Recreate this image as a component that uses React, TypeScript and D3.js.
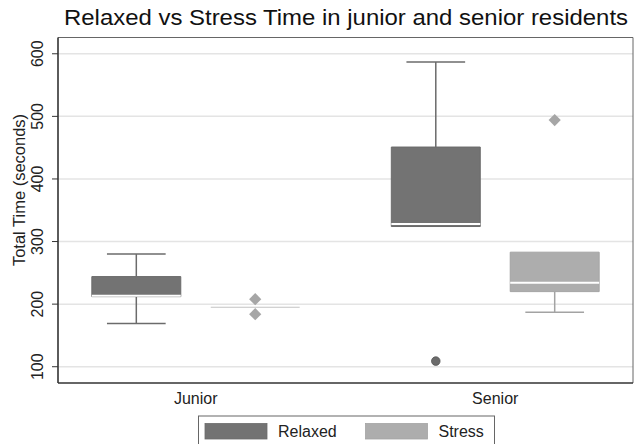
import React from 'react';
import * as d3 from 'd3';

// one entry per box
const groups = ['Junior', 'Senior'];
const seriesNames = ['Relaxed', 'Stress'];
const boxGroup = ['Junior', 'Junior', 'Senior', 'Senior'];
const boxSeries = ['Relaxed', 'Stress', 'Relaxed', 'Stress'];
const lowerWhisker = [169, 195, 324, 187];
const q1 = [212, 195, 324, 220];
const median = [213.5, 195, 328, 234];
const q3 = [244, 195, 451, 283];
const upperWhisker = [280, 195, 587, 283];

const outlierGroup = ['Junior', 'Junior', 'Senior', 'Senior'];
const outlierSeries = ['Stress', 'Stress', 'Relaxed', 'Stress'];
const outlierValue = [208, 184, 109, 494];

const yTicks = [100, 200, 300, 400, 500, 600];

const colors: Record<string, string> = { Relaxed: '#737373', Stress: '#adadad' };
const lineColors: Record<string, string> = { Relaxed: '#6b6b6b', Stress: '#a3a3a3' };

const W = 638, H = 444;
const left = 58, right = 633, top = 37.5, bottom = 383;
const font = 'Liberation Sans, Arial, Helvetica, sans-serif';

export default function App() {
  const x = d3.scalePoint<string>().domain(groups).range([left, right]).padding(0.46);
  const step = x.step();
  const sub = d3.scaleBand<string>().domain(seriesNames)
    .range([-step * 0.347, step * 0.347]).paddingInner(0.252);
  const bw = sub.bandwidth();
  const y = d3.scaleLinear().domain([74, 626]).range([bottom, top]);

  const cx = (g: string, s: string) => (x(g) as number) + (sub(s) as number) + bw / 2;

  const diamond = d3.symbol().type(d3.symbolDiamond2).size(95)();

  return (
    <svg width={W} height={H} style={{ position: 'absolute', left: 0, top: 0, background: '#fff' }}>
      <text x={346} y={25} textAnchor="middle" fontFamily={font} fontSize={22.5} fill="#111"
        textLength={564} lengthAdjust="spacingAndGlyphs">
        Relaxed vs Stress Time in junior and senior residents
      </text>

      {/* grid */}
      {yTicks.map(t => (
        <line key={'g' + t} x1={left} x2={right} y1={y(t)} y2={y(t)} stroke="#e4e4e4" strokeWidth={1.5} />
      ))}

      {/* boxes */}
      {boxGroup.map((g, i) => {
        const s = boxSeries[i];
        const c = cx(g, s);
        const x0 = c - bw / 2, x1 = c + bw / 2;
        const capW = bw * 0.33;
        const collapsed = q1[i] === q3[i];
        return (
          <g key={'b' + i}>
            {upperWhisker[i] > q3[i] && (
              <>
                <line x1={c} x2={c} y1={y(q3[i])} y2={y(upperWhisker[i])} stroke={lineColors[s]} strokeWidth={1.5} />
                <line x1={c - capW} x2={c + capW} y1={y(upperWhisker[i])} y2={y(upperWhisker[i])} stroke={lineColors[s]} strokeWidth={1.5} />
              </>
            )}
            {lowerWhisker[i] < q1[i] && (
              <>
                <line x1={c} x2={c} y1={y(q1[i])} y2={y(lowerWhisker[i])} stroke={lineColors[s]} strokeWidth={1.5} />
                <line x1={c - capW} x2={c + capW} y1={y(lowerWhisker[i])} y2={y(lowerWhisker[i])} stroke={lineColors[s]} strokeWidth={1.5} />
              </>
            )}
            <path
              d={`M${x0},${y(q3[i])}H${x1}V${y(q1[i])}H${x0}Z`}
              fill={colors[s]}
              stroke={collapsed ? '#c4c4c4' : lineColors[s]}
              strokeWidth={collapsed ? 1.2 : 1}
            />
            {!collapsed && (
              <line x1={x0} x2={x1} y1={y(median[i])} y2={y(median[i])} stroke="#fff" strokeWidth={2} />
            )}
          </g>
        );
      })}

      {/* outliers */}
      {outlierValue.map((v, i) => {
        const s = outlierSeries[i];
        const c = cx(outlierGroup[i], s);
        return s === 'Stress'
          ? <path key={'o' + i} d={diamond as string} transform={`translate(${c},${y(v)})`} fill="#a6a6a6" />
          : <circle key={'o' + i} cx={c} cy={y(v)} r={4.3} fill="#6b6b6b" stroke="#555" strokeWidth={0.8} />;
      })}

      {/* frame */}
      <line x1={left} x2={right} y1={top} y2={top} stroke="#666" strokeWidth={1} />
      <line x1={right} x2={right} y1={top} y2={bottom} stroke="#666" strokeWidth={1} />
      <line x1={left} x2={left} y1={top} y2={bottom} stroke="#333" strokeWidth={1.6} />
      <line x1={left} x2={right} y1={bottom} y2={bottom} stroke="#333" strokeWidth={1.6} />

      {/* y axis */}
      {yTicks.map(t => (
        <g key={'t' + t}>
          <line x1={left - 6} x2={left} y1={y(t)} y2={y(t)} stroke="#333" strokeWidth={1} />
          <text transform={`translate(${43},${y(t)}) rotate(-90)`} textAnchor="middle"
            fontFamily={font} fontSize={16} fill="#222">{t}</text>
        </g>
      ))}
      <text transform={`translate(${25},${190}) rotate(-90)`} textAnchor="middle"
        fontFamily={font} fontSize={16.5} fill="#222">Total Time (seconds)</text>

      {/* x labels */}
      {groups.map(g => (
        <text key={g} x={x(g)} y={404} textAnchor="middle" fontFamily={font} fontSize={16} fill="#222">{g}</text>
      ))}

      {/* legend */}
      <rect x={198.5} y={416} width={296} height={40} fill="#fff" stroke="#666" strokeWidth={1} />
      {seriesNames.map((s, i) => {
        const lx = 205 + i * 160.5;
        return (
          <g key={'l' + s}>
            <rect x={lx} y={423.5} width={62} height={15.5} fill={colors[s]} stroke={lineColors[s]} strokeWidth={0.8} />
            <text x={lx + 73} y={437} fontFamily={font} fontSize={16} fill="#222">{s}</text>
          </g>
        );
      })}
    </svg>
  );
}
